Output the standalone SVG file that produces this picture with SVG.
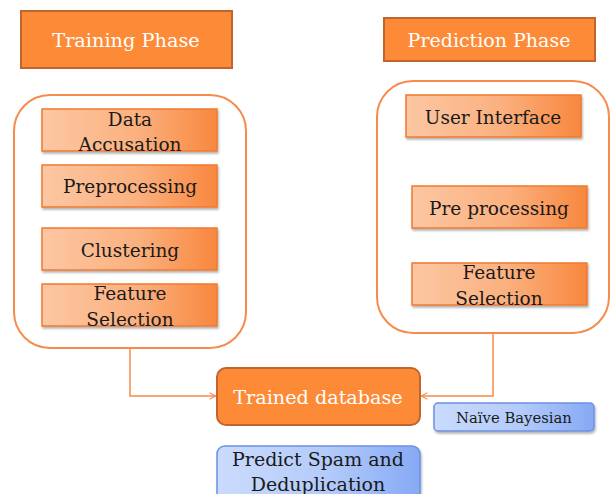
<svg xmlns="http://www.w3.org/2000/svg" width="615" height="494" viewBox="0 0 615 494">
  <defs>
    <linearGradient id="peach" x1="0" y1="0" x2="1" y2="0">
      <stop offset="0" stop-color="#FCC7A3"/>
      <stop offset="0.55" stop-color="#FBB07E"/>
      <stop offset="1" stop-color="#F8873E"/>
    </linearGradient>
    <linearGradient id="sky" x1="0" y1="0" x2="1" y2="0">
      <stop offset="0" stop-color="#CADBFC"/>
      <stop offset="0.55" stop-color="#B3CBFA"/>
      <stop offset="1" stop-color="#86A9F5"/>
    </linearGradient>
    <filter id="shadow" x="-10%" y="-20%" width="120%" height="150%">
      <feDropShadow dx="1" dy="2" stdDeviation="1.2" flood-color="#000" flood-opacity="0.3"/>
    </filter>
    <marker id="arrow" viewBox="0 0 10 10" refX="9" refY="5" markerWidth="8" markerHeight="8" orient="auto" markerUnits="userSpaceOnUse">
      <path d="M1,1 L9,5 L1,9" fill="none" stroke="#F68B4C" stroke-width="1.3"/>
    </marker>
    <style>
      .phase { fill: #FD8A37; stroke: #C0652D; stroke-width: 2; }
      .panel { fill: #FFFFFF; stroke: #F68B4C; stroke-width: 2; }
      .step { fill: url(#peach); stroke: #F07A30; stroke-width: 1.5; filter: url(#shadow); }
      .blue { fill: url(#sky); stroke: #6E90E2; stroke-width: 1.5; filter: url(#shadow); }
      .wt { font-family: "DejaVu Serif", "Liberation Serif", serif; fill: #FFFFFF; text-anchor: middle; }
      .bt { font-family: "DejaVu Serif", "Liberation Serif", serif; fill: #1A1A1A; text-anchor: middle; }
      .link { fill: none; stroke: #F68B4C; stroke-width: 1.5; }
    </style>
  </defs>
  <rect width="615" height="494" fill="#FFFFFF"/>

  <g id="training-phase">
    <rect class="phase" x="21" y="11" width="211" height="57"/>
    <text class="wt" x="126" y="47" font-size="19.3">Training Phase</text>
  </g>
  <g id="prediction-phase">
    <rect class="phase" x="384" y="18" width="211" height="43"/>
    <text class="wt" x="489" y="47" font-size="19">Prediction Phase</text>
  </g>

  <g id="training-panel">
    <rect class="panel" x="14" y="95" width="232" height="253" rx="36"/>
  </g>
  <g id="prediction-panel">
    <rect class="panel" x="377" y="81" width="232" height="252" rx="36"/>
  </g>

  <g id="data-accusation">
    <rect class="step" x="42" y="109" width="175" height="42"/>
    <text class="bt" x="130" y="126" font-size="18.5">Data</text>
    <text class="bt" x="130" y="151" font-size="18.5">Accusation</text>
  </g>
  <g id="preprocessing">
    <rect class="step" x="42" y="165" width="175" height="42"/>
    <text class="bt" x="130" y="193" font-size="18.5">Preprocessing</text>
  </g>
  <g id="clustering">
    <rect class="step" x="42" y="228" width="175" height="42"/>
    <text class="bt" x="130" y="257" font-size="18.5">Clustering</text>
  </g>
  <g id="feature-selection-train">
    <rect class="step" x="42" y="284" width="175" height="42"/>
    <text class="bt" x="130" y="300" font-size="18.5">Feature</text>
    <text class="bt" x="130" y="326" font-size="18.5">Selection</text>
  </g>

  <g id="user-interface">
    <rect class="step" x="406" y="95" width="175" height="42"/>
    <text class="bt" x="493" y="124" font-size="18.5">User Interface</text>
  </g>
  <g id="pre-processing">
    <rect class="step" x="412" y="186" width="175" height="42"/>
    <text class="bt" x="499" y="215" font-size="18.5">Pre processing</text>
  </g>
  <g id="feature-selection-predict">
    <rect class="step" x="412" y="263" width="175" height="42"/>
    <text class="bt" x="499" y="279" font-size="18.5">Feature</text>
    <text class="bt" x="499" y="305" font-size="18.5">Selection</text>
  </g>

  <g id="connectors">
    <path class="link" d="M130,348 V396 H216" marker-end="url(#arrow)"/>
    <path class="link" d="M493,333 V396 H421" marker-end="url(#arrow)"/>
  </g>

  <g id="trained-database">
    <rect class="phase" x="217" y="368" width="203" height="57" rx="9"/>
    <text class="wt" x="318" y="404" font-size="19.2">Trained database</text>
  </g>
  <g id="naive-bayesian">
    <rect class="blue" x="434" y="403" width="160" height="28" rx="4"/>
    <text class="bt" x="514" y="423" font-size="14.8">Naïve Bayesian</text>
  </g>
  <g id="predict-spam">
    <rect class="blue" x="217" y="446" width="203" height="56" rx="8"/>
    <text class="bt" x="318" y="466" font-size="19">Predict Spam and</text>
    <text class="bt" x="318" y="491" font-size="19">Deduplication</text>
  </g>
</svg>
